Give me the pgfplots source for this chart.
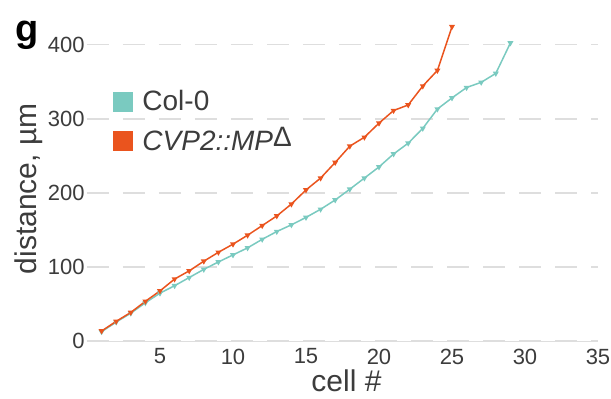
\documentclass[border=0pt]{standalone}
\usepackage{fontspec}
\setmainfont{Liberation Sans}
\usepackage{pgfplots}
\pgfplotsset{compat=1.18}
\definecolor{colteal}{RGB}{122,202,192}
\definecolor{colorange}{RGB}{234,84,30}
\definecolor{gridgray}{RGB}{222,222,222}
\definecolor{txtgray}{RGB}{60,60,60}
\begin{document}
\begin{tikzpicture}
\begin{axis}[
  name=ax,
  scale only axis,
  width=255.5pt, height=159.6pt,
  xmin=0, xmax=35, ymin=0, ymax=430,
  axis lines*=left,
  y axis line style={draw=none},
  x axis line style={gridgray, line width=0.8pt, -},
  xtick={5,10,...,35},
  ytick={0,100,...,400},
  major tick length=0pt,
  ymajorgrids,
  major grid style={gridgray, line width=0.9pt, dash pattern=on 11pt off 7pt},
  /pgf/number format/assume math mode=true,
  ticklabel style={font=\fontsize{11}{11}\selectfont, text=txtgray},
  yticklabel style={inner sep=0pt, xshift=-1pt},
  xticklabel style={inner sep=0pt, yshift=-3.5pt},
  xlabel={cell \#},
  ylabel={distance, µm},
  label style={font=\fontsize{15}{15}\selectfont, text=txtgray},
  xlabel style={yshift=1pt, xshift=2pt},
  ylabel style={yshift=-1pt, xshift=-3.5pt},
  legend style={at={(rel axis cs:0.051,0.80)}, anchor=north west, draw=none, fill=none,
    font=\fontsize{14}{14}\selectfont, text=txtgray, row sep=3pt,
    inner sep=0pt},
  legend cell align=left,
  legend image code/.code={\fill[#1, draw=none] (0pt,-5pt) rectangle (10pt,5pt);\path[draw=none, fill=none] (0pt,0pt) rectangle (12.5pt,0.1pt);},
  clip=false,
]
\addplot[colteal, line width=0.75pt, mark=triangle*, mark size=1pt, mark options={rotate=180}] coordinates {
(1,13) (2,26) (3,38) (4,52) (5,65) (6,75) (7,86) (8,97) (9,107) (10,116.5)
(11,126) (12,137.5) (13,148) (14,157) (15,167) (16,178) (17,190.5) (18,205)
(19,220) (20,235) (21,252.5) (22,267) (23,287) (24,313) (25,328) (26,342)
(27,349) (28,361) (29,402)
};
\addlegendentry{Col-0}
\addplot[colorange, line width=0.75pt, mark=triangle*, mark size=1pt, mark options={rotate=180}] coordinates {
(1,14) (2,27) (3,39) (4,54) (5,68) (6,84) (7,95) (8,108) (9,120) (10,131)
(11,143) (12,156) (13,169) (14,185) (15,204) (16,220) (17,241) (18,263)
(19,275) (20,294) (21,311) (22,318.5) (23,344) (24,365) (25,424)
};
\addlegendentry{\itshape CVP2::MP\raisebox{2pt}{\upshape Δ}}
\node[anchor=base west, font=\bfseries\fontsize{19}{19}\selectfont, inner sep=0pt]
  at ([xshift=-36pt, yshift=-9.5pt]rel axis cs:0,1) {g};
\end{axis}
\path ([xshift=-43.5pt, yshift=-27.25pt]ax.south west) rectangle ([xshift=6.5pt, yshift=11.1pt]ax.north east);
\end{tikzpicture}
\end{document}
